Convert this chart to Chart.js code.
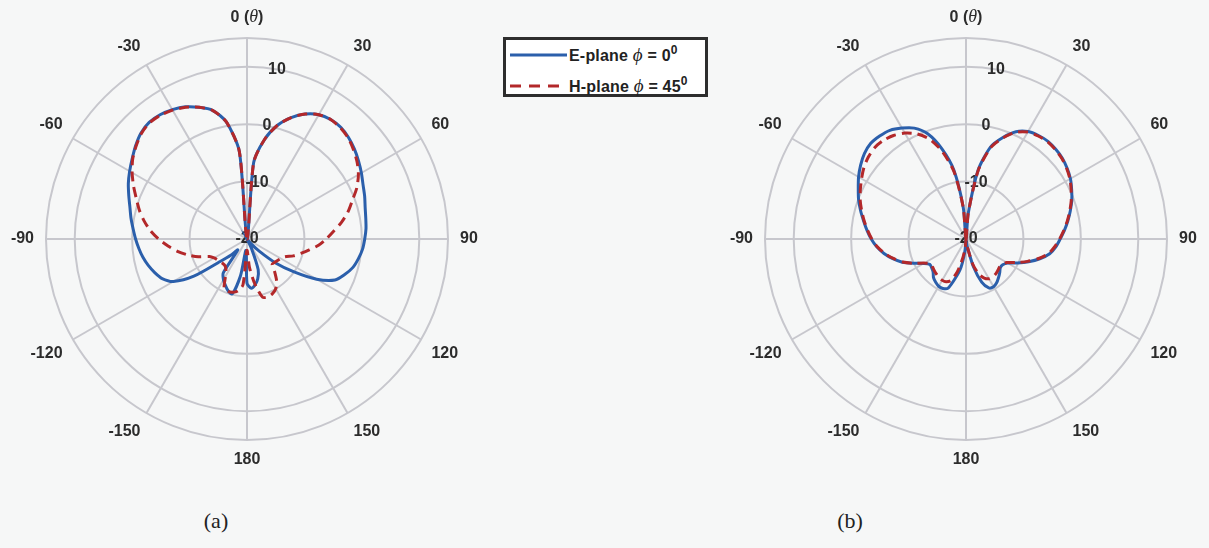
<!DOCTYPE html>
<html>
<head>
<meta charset="utf-8">
<script src="https://cdn.jsdelivr.net/npm/chart.js@4.4.1/dist/chart.umd.min.js"></script>
<style>
  body { margin: 0; background: #f6f7f7; }
  #page { position: relative; width: 1209px; height: 548px; overflow: hidden; font-family: "Liberation Sans", Arial, sans-serif; }
  canvas { position: absolute; top: 0; }
  #chartA { left: 0; }
  #chartB { left: 719px; }
  .legenda { position: absolute; left: 503px; top: 37px; width: 199px; height: 54px; border: 3px solid #2e2e2e; background: #fff; }
  .legenda .item { position: absolute; left: 0; height: 20px; width: 199px; }
  .legenda svg { position: absolute; left: 4px; top: 0; }
  .legenda span { position: absolute; left: 63px; top: 0; font: bold 16px "Liberation Sans", Arial, sans-serif; color: #222; line-height: 20px; white-space: nowrap; letter-spacing: 0.2px; }
  .legenda i { font-family: "Liberation Serif", serif; font-weight: normal; font-size: 19px; }
  .legenda sup { font-size: 12px; line-height: 0; vertical-align: 7px; }
  .caption { position: absolute; top: 508px; font: 22px "Liberation Serif", serif; color: #222; transform: translateX(-50%); }
</style>
</head>
<body>
<div id="page">
  <canvas id="chartA" width="494" height="480"></canvas>
  <canvas id="chartB" width="490" height="480"></canvas>

  <div class="legenda">
    <div class="item" style="top: 5px;">
      <svg width="58" height="20"><line x1="0" y1="10" x2="57" y2="10" stroke="#2b5fab" stroke-width="3"/></svg>
      <span>E-plane <i>ϕ</i> = 0<sup>0</sup></span>
    </div>
    <div class="item" style="top: 36px;">
      <svg width="58" height="20"><line x1="0" y1="10" x2="57" y2="10" stroke="#b3282a" stroke-width="3" stroke-dasharray="11 8"/></svg>
      <span>H-plane <i>ϕ</i> = 45<sup>0</sup></span>
    </div>
  </div>

  <div class="caption" style="left: 216px;">(a)</div>
  <div class="caption" style="left: 850px;">(b)</div>
</div>

<script>
// Ângulos theta (graus), sentido horário a partir do topo
const thetaDeg = [0, 5, 10, 15, 20, 25, 30, 35, 40, 45, 50, 55, 60, 65, 70, 75, 80, 85, 90,
  95, 100, 105, 110, 115, 120, 125, 130, 135, 140, 145, 150, 155, 160, 165, 170, 175, 180,
  -175, -170, -165, -160, -155, -150, -145, -140, -135, -130, -125, -120, -115, -110, -105,
  -100, -95, -90, -85, -80, -75, -70, -65, -60, -55, -50, -45, -40, -35, -30, -25, -20, -15, -10, -5];

// Ganho (dB) - figura (a)
const ePlaneA = [-20, -6.6, -2.4, 0.5, 2.5, 4.0, 5.0, 5.4, 5.4, 5.0, 4.4, 3.7, 3.0, 2.3, 1.8, 1.3, 1.0, 0.8, 0.5,
  0.2, -0.3, -0.9, -1.9, -3.1, -6.0, -10.0, -13.5, -17.0, -19.0, -20, -20, -18.0, -14.3, -12.8, -11.9, -11.4, -12.3,
  -18.0, -13.5, -10.1, -10.4, -11.1, -11.8, -12.8, -17.5, -16.0, -13.9, -8.7, -5.2, -3.7, -2.9, -2.2,
  -1.6, -1.1, -0.6, -0.1, 0.5, 1.1, 1.9, 2.8, 3.6, 4.4, 5.3, 6.1, 6.5, 6.4, 6.0, 5.4, 4.4, 3.2, 0.7, -4.7];

const hPlaneA = [-20, -6.6, -2.4, 0.5, 2.5, 4.0, 5.0, 5.4, 5.3, 4.9, 4.2, 3.4, 2.4, 1.1, -0.5, -1.8, -3.3, -4.9, -6.2,
  -7.5, -9.0, -10.3, -11.4, -12.7, -13.2, -13.5, -13.7, -13.8, -12.5, -11.0, -10.0, -9.5, -9.3, -9.5, -12.0, -15.0, -18.0,
  -12.0, -10.8, -10.4, -10.3, -10.6, -12.5, -13.6, -14.0, -14.0, -13.9, -13.7, -13.4, -12.8, -11.0, -9.3,
  -7.7, -6.2, -4.6, -3.1, -1.8, -0.6, 0.5, 1.8, 3.1, 4.3, 5.2, 6.0, 6.4, 6.3, 5.9, 5.3, 4.4, 3.2, 0.7, -4.7];

// Ganho (dB) - figura (b)
const ePlaneB = [-20, -15.5, -7.8, -3.4, -1.2, 0.6, 1.6, 2.0, 2.2, 2.1, 1.9, 1.5, 1.0, 0.3, -0.4, -1.2, -2.0, -2.8, -3.6,
  -4.3, -5.2, -6.7, -8.4, -10.1, -11.6, -12.2, -12.2, -11.7, -11.2, -10.7, -10.4, -10.6, -12.0, -15.0, -18.5, -19.5, -20,
  -18.0, -15.0, -13.0, -10.9, -10.5, -10.5, -10.8, -11.2, -11.9, -12.2, -12.3, -11.5, -10.0, -8.2, -6.8,
  -5.5, -4.4, -3.5, -2.7, -1.9, -1.0, -0.1, 0.7, 1.6, 2.4, 3.1, 3.5, 3.4, 3.1, 2.3, 1.3, -0.5, -3.7, -7.8, -14.5];

const hPlaneB = [-20, -15.5, -8.0, -3.6, -1.3, 0.5, 1.5, 1.9, 2.1, 2.0, 1.8, 1.4, 0.9, 0.2, -0.5, -1.3, -2.1, -2.9, -3.7,
  -4.5, -5.4, -6.9, -8.6, -10.3, -11.8, -12.3, -12.4, -12.2, -12.0, -11.9, -12.0, -12.5, -13.5, -15.5, -18.5, -19.5, -20,
  -18.5, -16.5, -14.0, -12.3, -11.8, -11.7, -11.8, -12.0, -12.2, -12.4, -12.5, -11.6, -10.0, -8.3, -6.9,
  -5.6, -4.5, -3.6, -2.8, -2.0, -1.2, -0.4, 0.3, 1.0, 1.7, 2.2, 2.5, 2.4, 2.0, 1.3, 0.2, -1.5, -4.3, -8.2, -14.5];

// Rótulos dos eixos
const angleTicks = [0, 30, 60, 90, 120, 150, 180, -150, -120, -90, -60, -30];
const radialTicks = [10, 0, -10, -20];
const radialTickSpoke = 10; // rótulos radiais ao longo de theta = 10

const gridColor = "#c7c7cd";
const textColor = "#2c2c2c";
const labelFont = 'bold 16px "Liberation Sans", Arial, sans-serif';

// Desenha rótulos angulares e radiais usando a escala r do gráfico
const polarLabels = {
  id: "polarLabels",
  beforeDatasetsDraw(chart) {
    const scale = chart.scales.r;
    const ctx = chart.ctx;
    ctx.save();
    ctx.fillStyle = textColor;
    ctx.font = labelFont;

    // valores radiais
    ctx.textAlign = "center";
    ctx.textBaseline = "middle";
    const spoke = thetaDeg.indexOf(radialTickSpoke);
    radialTicks.forEach((v) => {
      const p = scale.getPointPositionForValue(spoke, v);
      ctx.fillText(String(v), p.x, p.y);
    });

    // ângulos
    angleTicks.forEach((deg) => {
      const idx = thetaDeg.indexOf(deg);
      const a = (deg + 360) % 360;
      const p = scale.getPointPosition(idx, scale.drawingArea + 12);
      let align = "center";
      if (a > 0 && a < 180) align = "left";
      else if (a > 180) align = "right";
      let base = "top";
      if (a === 90 || a === 270) base = "middle";
      else if (a < 90 || a > 270) base = "bottom";
      ctx.textBaseline = base;

      if (deg === 0) {
        // "0 (θ)" com theta em itálico
        const parts = [
          { t: "0 (", f: labelFont },
          { t: "θ", f: 'italic 18px "Liberation Serif", serif' },
          { t: ")", f: labelFont },
        ];
        let w = 0;
        parts.forEach((pt) => { ctx.font = pt.f; w += ctx.measureText(pt.t).width; });
        let x = p.x - w / 2;
        ctx.textAlign = "left";
        parts.forEach((pt) => {
          ctx.font = pt.f;
          ctx.fillText(pt.t, x, p.y);
          x += ctx.measureText(pt.t).width;
        });
        ctx.font = labelFont;
      } else {
        ctx.textAlign = align;
        ctx.fillText(String(deg), p.x, p.y);
      }
    });
    ctx.restore();
  },
};

function criarPolar(canvasId, ePlane, hPlane, padRight) {
  const ctx = document.getElementById(canvasId).getContext("2d");
  return new Chart(ctx, {
    type: "radar",
    data: {
      labels: thetaDeg,
      datasets: [
        {
          label: "E-plane",
          data: ePlane,
          borderColor: "#2b5fab",
          borderWidth: 3,
          pointRadius: 0,
          fill: false,
          tension: 0.25,
          order: 2,
        },
        {
          label: "H-plane",
          data: hPlane,
          borderColor: "#b3282a",
          borderWidth: 3,
          borderDash: [10, 6],
          pointRadius: 0,
          fill: false,
          tension: 0.25,
          order: 1,
        },
      ],
    },
    options: {
      responsive: false,
      animation: false,
      layout: { padding: { left: 46, right: padRight, top: 38, bottom: 40 } },
      plugins: {
        legend: { display: false },
        tooltip: { enabled: false },
      },
      scales: {
        r: {
          min: -20,
          max: 15,
          startAngle: 0,
          ticks: { stepSize: 5, display: false },
          pointLabels: { display: false },
          grid: {
            circular: true,
            lineWidth: 2,
            color: (c) =>
              c.tick && (c.tick.value % 10 === 0 || c.tick.value === 15) ? gridColor : "rgba(0,0,0,0)",
          },
          angleLines: {
            color: gridColor,
            lineWidth: (c) => (c.index % 6 === 0 ? 2 : 0),
          },
        },
      },
    },
    plugins: [polarLabels],
  });
}

criarPolar("chartA", ePlaneA, hPlaneA, 46);
criarPolar("chartB", ePlaneB, hPlaneB, 42);
</script>
</body>
</html>
